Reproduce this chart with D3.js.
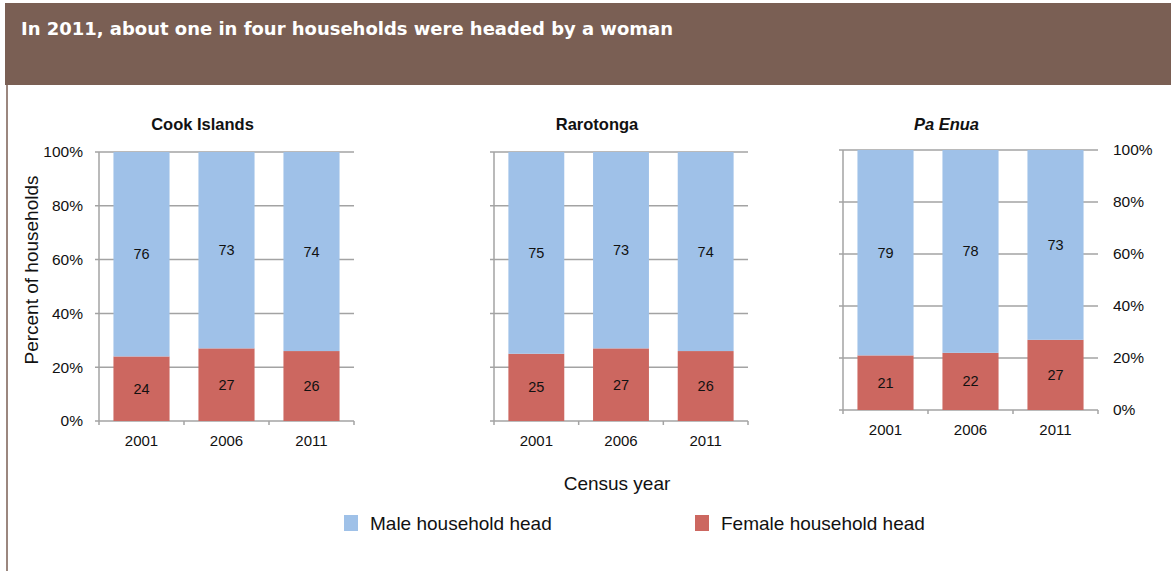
<!DOCTYPE html>
<html>
<head>
<meta charset="utf-8">
<script src="https://cdn.jsdelivr.net/npm/d3@7"></script>
<style>
  body { margin: 0; background: #fff; }
  text { font-family: "Liberation Sans", Arial, sans-serif; fill: #111; }
</style>
</head>
<body>
<svg id="chart"></svg>
<script>
var width = 1171,
    height = 571;

// data
var years = ["2001", "2006", "2011"];
var panels = ["Cook Islands", "Rarotonga", "Pa Enua"];
var maleCook = [76, 73, 74];
var femaleCook = [24, 27, 26];
var maleRaro = [75, 73, 74];
var femaleRaro = [25, 27, 26];
var maleEnua = [79, 78, 73];
var femaleEnua = [21, 22, 27];
var yTicks = [0, 20, 40, 60, 80, 100];

var blue = "#9fc1e8",
    red = "#cc6760",
    grid = "#a3a3a3";

var svg = d3.select("#chart")
    .attr("width", width)
    .attr("height", height);

// header band
svg.append("rect")
    .attr("x", 5).attr("y", 3)
    .attr("width", width - 5).attr("height", 82)
    .style("fill", "#7a5f54");
svg.append("text")
    .attr("x", 21).attr("y", 35)
    .attr("textLength", 652)
    .attr("lengthAdjust", "spacingAndGlyphs")
    .text("In 2011, about one in four households were headed by a woman")
    .style("font-family", "'DejaVu Sans', sans-serif")
    .style("font-weight", "bold")
    .style("font-size", "17px")
    .style("fill", "#fff");
svg.append("line")
    .attr("x1", 7).attr("x2", 7)
    .attr("y1", 85).attr("y2", height)
    .style("stroke", "#7a5f54").style("stroke-width", 1.5);

var panelData = [
    {name: panels[0], male: maleCook, female: femaleCook, x0: 99, x1: 354, top: 152, bottom: 421, italic: false, axis: "left"},
    {name: panels[1], male: maleRaro, female: femaleRaro, x0: 494, x1: 748, top: 152, bottom: 421, italic: false, axis: "none"},
    {name: panels[2], male: maleEnua, female: femaleEnua, x0: 843, x1: 1098, top: 150, bottom: 410, italic: true, axis: "right"}
];

panelData.forEach(function(p) {
    var g = svg.append("g");
    var x = d3.scaleBand().domain(years).range([p.x0, p.x1]).paddingInner(0.34).paddingOuter(0.17);
    var y = d3.scaleLinear().domain([0, 100]).range([p.bottom, p.top]);

    // grid lines
    g.selectAll("line.grid")
        .data(yTicks)
        .enter().append("line")
        .attr("x1", p.x0 - 4).attr("x2", p.x1)
        .attr("y1", function(d) { return y(d); })
        .attr("y2", function(d) { return y(d); })
        .style("stroke", grid).style("stroke-width", 1.5);

    // y axis line
    g.append("line")
        .attr("x1", p.x0).attr("x2", p.x0)
        .attr("y1", p.top).attr("y2", p.bottom)
        .style("stroke", grid).style("stroke-width", 1.5);

    // category ticks below axis
    var edges = [p.x0].concat(years.map(function(d) { return x(d) + x.bandwidth() + x.step() * 0.17; }));
    g.selectAll("line.xtick")
        .data(edges)
        .enter().append("line")
        .attr("x1", function(d) { return d; }).attr("x2", function(d) { return d; })
        .attr("y1", p.bottom).attr("y2", p.bottom + 4)
        .style("stroke", grid).style("stroke-width", 1.5);

    // female (bottom) bars
    g.selectAll("rect.f")
        .data(p.female)
        .enter().append("rect")
        .attr("x", function(d, i) { return x(years[i]); })
        .attr("width", x.bandwidth())
        .attr("y", function(d) { return y(d); })
        .attr("height", function(d) { return y(0) - y(d); })
        .style("fill", red);

    // male (top) bars
    g.selectAll("rect.m")
        .data(p.male)
        .enter().append("rect")
        .attr("x", function(d, i) { return x(years[i]); })
        .attr("width", x.bandwidth())
        .attr("y", function(d, i) { return y(p.female[i] + d); })
        .attr("height", function(d, i) { return y(p.female[i]) - y(p.female[i] + d); })
        .style("fill", blue);

    // value labels
    g.selectAll("text.fl")
        .data(p.female)
        .enter().append("text")
        .attr("x", function(d, i) { return x(years[i]) + x.bandwidth() / 2; })
        .attr("y", function(d) { return y(d / 2); })
        .attr("dy", "0.35em")
        .style("text-anchor", "middle")
        .style("font-size", "14.5px")
        .text(function(d) { return d; });
    g.selectAll("text.ml")
        .data(p.male)
        .enter().append("text")
        .attr("x", function(d, i) { return x(years[i]) + x.bandwidth() / 2; })
        .attr("y", function(d, i) { return y(p.female[i] + d / 2); })
        .attr("dy", "0.35em")
        .style("text-anchor", "middle")
        .style("font-size", "14.5px")
        .text(function(d) { return d; });

    // year labels
    g.selectAll("text.yr")
        .data(years)
        .enter().append("text")
        .attr("x", function(d) { return x(d) + x.bandwidth() / 2; })
        .attr("y", p.bottom + 25)
        .style("text-anchor", "middle")
        .style("font-size", "15px")
        .text(function(d) { return d; });

    // panel title (sits a little left of the plot centre)
    g.append("text")
        .attr("x", (p.x0 + p.x1) / 2 - 24)
        .attr("y", 130)
        .style("text-anchor", "middle")
        .style("font-size", "16.5px")
        .style("font-weight", "bold")
        .style("font-style", p.italic ? "italic" : "normal")
        .text(p.name);

    // percent labels
    if (p.axis != "none") {
        g.selectAll("text.pct")
            .data(yTicks)
            .enter().append("text")
            .attr("x", p.axis == "left" ? p.x0 - 16 : p.x1 + 15)
            .attr("y", function(d) { return y(d); })
            .attr("dy", "0.35em")
            .style("text-anchor", p.axis == "left" ? "end" : "start")
            .style("font-size", "15.5px")
            .text(function(d) { return d + "%"; });
    }
});

// axis titles
svg.append("text")
    .attr("transform", "translate(38,270) rotate(-90)")
    .style("text-anchor", "middle")
    .style("font-size", "19px")
    .text("Percent of households");
svg.append("text")
    .attr("x", 617).attr("y", 490)
    .style("text-anchor", "middle")
    .style("font-size", "19px")
    .text("Census year");

// legend
var legend = [
    {label: "Male household head", color: blue, x: 344},
    {label: "Female household head", color: red, x: 695}
];
var lg = svg.selectAll("g.legend")
    .data(legend)
    .enter().append("g")
    .attr("transform", function(d) { return "translate(" + d.x + ",515)"; });
lg.append("rect")
    .attr("width", 14).attr("height", 16)
    .style("fill", function(d) { return d.color; });
lg.append("text")
    .attr("x", 26).attr("y", 15)
    .style("font-size", "19px")
    .text(function(d) { return d.label; });
</script>
</body>
</html>
